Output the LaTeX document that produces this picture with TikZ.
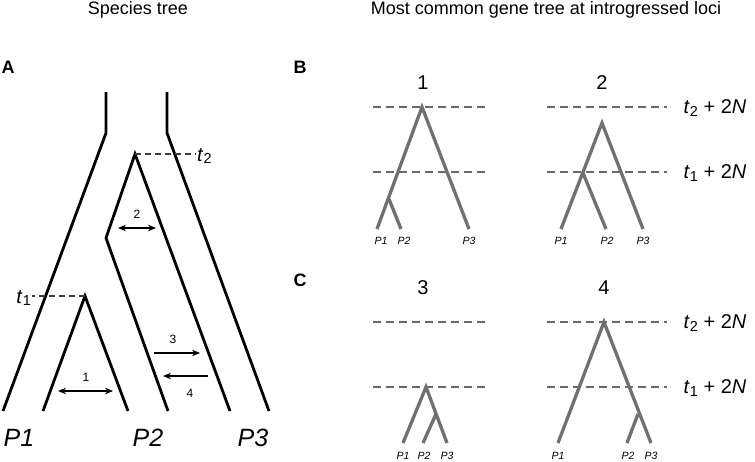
\documentclass[tikz,border=0pt]{standalone}
\usepackage{fontspec}
\setmainfont{Liberation Sans}
\usetikzlibrary{arrows.meta}

\definecolor{treegray}{RGB}{112,112,112}
\definecolor{lvlgray}{RGB}{105,105,105}
\definecolor{tgray}{RGB}{60,60,60}
\newcommand{\tlab}[1]{\textit{t}\kern0.2pt\raisebox{-0.25ex}{\scalebox{0.72}{#1}}}

\begin{document}
\begin{tikzpicture}[x=1pt, y=-1pt,
	branch/.style = {line width=2.8pt, line join=miter},
	gbranch/.style = {line width=3.3pt, treegray, line join=miter},
	tline/.style = {line width=1.4pt, tgray, dash pattern=on 6pt off 4pt},
	level/.style = {line width=1.7pt, lvlgray, dash pattern=on 8pt off 5pt},
	flow/.style = {line width=1.3pt, -{Stealth[length=8pt, width=6.5pt]}},
	flowboth/.style = {flow, {Stealth[length=8pt, width=6.5pt]}-{Stealth[length=8pt, width=6.5pt]}},
	heading/.style = {font=\fontsize{18}{20}\selectfont},
	panel/.style = {font=\fontsize{18}{20}\selectfont\bfseries},
	bigpop/.style = {font=\fontsize{25}{28}\selectfont\itshape},
	smallpop/.style = {font=\fontsize{10.5}{12}\selectfont\itshape},
	numlab/.style = {font=\fontsize{12}{14}\selectfont},
	treenum/.style = {font=\fontsize{20}{22}\selectfont},
	timelab/.style = {font=\fontsize{20}{22}\selectfont}]

	\useasboundingbox (0, 0) rectangle (755, 461);

	% headings
	\node[heading] (ttlA) at (138, 10) {Species tree};
	\node[heading] (ttlB) at (546, 10) {Most common gene tree at introgressed loci};
	\node[panel] (pA) at (8, 67) {A};
	\node[panel] (pB) at (300, 67) {B};
	\node[panel] (pC) at (300, 280) {C};

	% species tree
	\coordinate (ltop) at (106, 92);
	\coordinate (lbend) at (106, 133);
	\coordinate (lfoot) at (3, 411);
	\coordinate (rtop) at (167, 92);
	\coordinate (rbend) at (167, 133);
	\coordinate (rfoot) at (269, 411);
	\coordinate (sp23) at (135, 154);
	\coordinate (kink) at (106, 238);
	\coordinate (p2foot) at (168, 411);
	\coordinate (p3foot) at (230, 411);
	\coordinate (sp12) at (85, 296);
	\coordinate (p1foot) at (43, 411);
	\coordinate (p12foot) at (128, 411);

	\draw[branch] (ltop) -- (lbend) -- (lfoot);
	\draw[branch] (rtop) -- (rbend) -- (rfoot);
	\draw[branch] (p2foot) -- (kink) -- (sp23) -- (p3foot);
	\draw[branch] (p1foot) -- (sp12) -- (p12foot);

	\node[timelab, anchor=west, inner sep=1pt] (t2) at (196, 156) {\tlab{2}};
	\node[timelab, anchor=east, inner sep=1pt] (t1) at (32, 298) {\tlab{1}};
	\draw[tline] (sp23) -- (196, 154);
	\draw[tline] (sp12) -- (32, 296);

	% migration arrows
	\coordinate (m2a) at (118, 228);
	\coordinate (m2b) at (156, 228);
	\coordinate (m1a) at (58, 391);
	\coordinate (m1b) at (113, 391);
	\coordinate (m3a) at (154, 353);
	\coordinate (m3b) at (200, 353);
	\coordinate (m4a) at (208, 376);
	\coordinate (m4b) at (163, 376);
	\draw[flowboth] (m2a) -- (m2b);
	\draw[flowboth] (m1a) -- (m1b);
	\draw[flow] (m3a) -- (m3b);
	\draw[flow] (m4a) -- (m4b);
	\node[numlab] (n2) at (137, 214) {2};
	\node[numlab] (n1) at (86, 377) {1};
	\node[numlab] (n3) at (173, 339) {3};
	\node[numlab] (n4) at (190, 393) {4};

	\node[bigpop] (P1) at (19, 438) {P1};
	\node[bigpop] (P2) at (148, 438) {P2};
	\node[bigpop] (P3) at (253, 438) {P3};

	% time levels of the gene trees
	\foreach \y/\k in {107/2, 172/1, 322/2, 387/1}{
		\draw[level] (373, \y) -- (487, \y);
		\draw[level] (547, \y) -- (667, \y);
		\node[timelab, anchor=west] at (680, \y+1) {\tlab{\k} + 2\textit{N}};
	}

	% gene tree 1
	\node[treenum] (g1) at (423, 83) {1};
	\coordinate (g1r) at (422, 107);
	\coordinate (g1n) at (389, 199);
	\coordinate (g1a) at (377, 229);
	\coordinate (g1b) at (401, 229);
	\coordinate (g1c) at (469, 229);
	\draw[gbranch] (g1a) -- (g1r) -- (g1c);
	\draw[gbranch] (g1n) -- (g1b);
	\node[smallpop] at (381, 241) {P1};
	\node[smallpop] at (404, 241) {P2};
	\node[smallpop] at (469, 241) {P3};

	% gene tree 2
	\node[treenum] (g2) at (602, 83) {2};
	\coordinate (g2r) at (602, 123);
	\coordinate (g2n) at (583, 173);
	\coordinate (g2a) at (561, 229);
	\coordinate (g2b) at (606, 229);
	\coordinate (g2c) at (643, 229);
	\draw[gbranch] (g2a) -- (g2r) -- (g2c);
	\draw[gbranch] (g2n) -- (g2b);
	\node[smallpop] at (561, 241) {P1};
	\node[smallpop] at (607, 241) {P2};
	\node[smallpop] at (643, 241) {P3};

	% gene tree 3
	\node[treenum] (g3) at (423, 288) {3};
	\coordinate (g3r) at (426, 387);
	\coordinate (g3n) at (436, 414);
	\coordinate (g3a) at (403, 443);
	\coordinate (g3b) at (423, 443);
	\coordinate (g3c) at (447, 443);
	\draw[gbranch] (g3a) -- (g3r) -- (g3c);
	\draw[gbranch] (g3n) -- (g3b);
	\node[smallpop] at (403, 456) {P1};
	\node[smallpop] at (424, 456) {P2};
	\node[smallpop] at (447, 456) {P3};

	% gene tree 4
	\node[treenum] (g4) at (604, 288) {4};
	\coordinate (g4r) at (604, 322);
	\coordinate (g4n) at (638, 414);
	\coordinate (g4a) at (558, 443);
	\coordinate (g4b) at (627, 443);
	\coordinate (g4c) at (651, 443);
	\draw[gbranch] (g4a) -- (g4r) -- (g4c);
	\draw[gbranch] (g4n) -- (g4b);
	\node[smallpop] at (558, 456) {P1};
	\node[smallpop] at (628, 456) {P2};
	\node[smallpop] at (651, 456) {P3};

\end{tikzpicture}
\end{document}
